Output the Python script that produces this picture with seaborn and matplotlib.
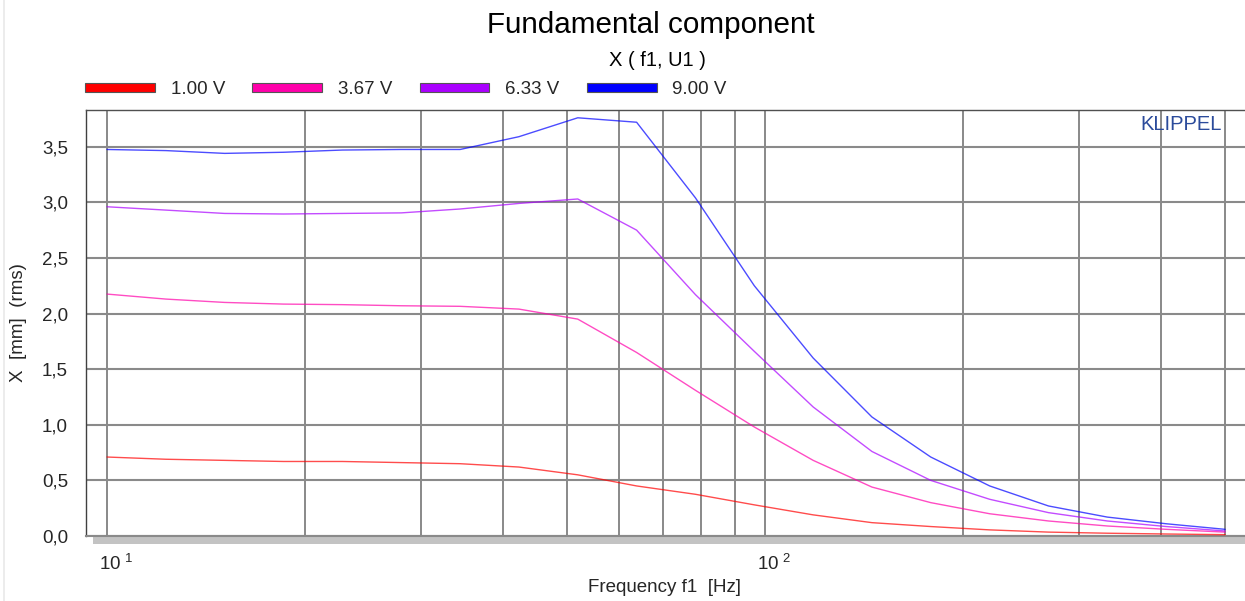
import numpy as np
import pandas as pd
import matplotlib
matplotlib.use("Agg")
import matplotlib.pyplot as plt
from matplotlib.patches import Patch, Rectangle
from matplotlib.transforms import ScaledTranslation
from matplotlib.ticker import FixedLocator, FuncFormatter, MultipleLocator, NullFormatter
import seaborn as sns

# Excitation frequencies of the stepped sine sweep [Hz]
freq_hz = [10.0, 12.29, 15.09, 18.54, 22.78, 27.99, 34.39, 42.25, 51.91, 63.78,
           78.36, 96.28, 118.3, 145.3, 178.5, 219.4, 269.5, 331.1, 406.9, 500.0]

# Fundamental displacement X (rms) [mm] for each drive voltage
x_1v00 = [0.71, 0.69, 0.68, 0.67, 0.67, 0.66, 0.65, 0.62, 0.55, 0.45,
          0.375, 0.28, 0.19, 0.12, 0.085, 0.055, 0.035, 0.025, 0.018, 0.012]
x_3v67 = [2.175, 2.13, 2.10, 2.085, 2.08, 2.07, 2.065, 2.04, 1.95, 1.65,
          1.31, 0.98, 0.68, 0.44, 0.30, 0.20, 0.135, 0.09, 0.06, 0.035]
x_6v33 = [2.96, 2.93, 2.90, 2.895, 2.90, 2.905, 2.94, 2.99, 3.03, 2.75,
          2.17, 1.66, 1.16, 0.76, 0.50, 0.33, 0.21, 0.135, 0.085, 0.045]
x_9v00 = [3.475, 3.465, 3.44, 3.45, 3.47, 3.475, 3.475, 3.59, 3.76, 3.72,
          3.04, 2.25, 1.60, 1.07, 0.71, 0.45, 0.27, 0.17, 0.11, 0.06]

levels = ["1.00 V", "3.67 V", "6.33 V", "9.00 V"]
level_colors = ["#ff0000", "#ff00aa", "#aa00ff", "#0000ff"]

x_major = [10, 100]
x_minor = [20, 30, 40, 50, 60, 70, 80, 90, 200, 300, 400, 500]

df = pd.concat(
    [pd.DataFrame({"freq": freq_hz, "disp": vals, "level": lev})
     for lev, vals in zip(levels, [x_1v00, x_3v67, x_6v33, x_9v00])],
    ignore_index=True,
)

sns.set_theme(style="white")
plt.rcParams["font.family"] = ["Liberation Sans", "DejaVu Sans"]
plt.rcParams["mathtext.default"] = "regular"

W, H = 1245, 601
fig = plt.figure(figsize=(W / 100, H / 100), dpi=100)
fig.patch.set_facecolor("white")
ax = fig.add_axes([86 / W, 65 / H, (W - 86) / W, 426 / H])

palette = dict(zip(levels, level_colors))
sns.lineplot(data=df, x="freq", y="disp", hue="level", palette=palette,
             ax=ax, legend=False, linewidth=1.0, alpha=0.7, zorder=3)

ax.set_xscale("log")
ax.set_xlim(9.29, 536)
ax.set_ylim(0, 3.83)

# x axis: decades labelled, intermediate frequencies as grid only
ax.xaxis.set_major_locator(FixedLocator(x_major))
ax.xaxis.set_minor_locator(FixedLocator(x_minor))
ax.xaxis.set_major_formatter(FuncFormatter(
    lambda v, p: r"$10^{\ %d}$" % int(round(np.log10(v)))))
ax.xaxis.set_minor_formatter(NullFormatter())
ax.tick_params(axis="x", which="major", direction="out", length=8.6, width=1.0,
               color="#404040", labelsize=13.5, pad=4)
ax.tick_params(axis="x", which="minor", length=0)

# y axis: comma decimal labels, inward minor ticks
ax.yaxis.set_major_locator(MultipleLocator(0.5))
ax.yaxis.set_minor_locator(MultipleLocator(0.1))
ax.yaxis.set_major_formatter(FuncFormatter(lambda v, p: f"{v:.1f}".replace(".", ",")))
ax.tick_params(axis="y", which="major", direction="out", length=7.9, width=1.5,
               color="#8a8a8a", labelsize=13.5, pad=5)
ax.tick_params(axis="y", which="minor", direction="in", length=7.2, width=1.0,
               color="#555555")

ax.grid(which="major", axis="y", color="#8a8a8a", linewidth=1.5)
ax.grid(which="both", axis="x", color="#6a6a6a", linewidth=1.1)
ax.set_axisbelow(True)

ax.spines["right"].set_visible(False)
ax.spines["left"].set_color("#404040")
ax.spines["left"].set_linewidth(1.0)
ax.spines["top"].set_color("#505050")
ax.spines["top"].set_linewidth(1.0)
ax.spines["bottom"].set_color("#8a8a8a")
ax.spines["bottom"].set_linewidth(1.5)

# decade labels sit slightly right of their tick
shift = ScaledTranslation(9 / 100, 0, fig.dpi_scale_trans)
for lbl in ax.xaxis.get_majorticklabels():
    lbl.set_transform(lbl.get_transform() + shift)

# shadow band under the frequency axis
ax.add_patch(Rectangle((7 / 1159, -7.5 / 426), 1.2, 7 / 426, transform=ax.transAxes,
                       facecolor="#c3c3c3", edgecolor="none", clip_on=False, zorder=1))

ax.set_xlabel("Frequency f1  [Hz]", fontsize=13.5)
ax.xaxis.label.set_va("center")
ax.xaxis.set_label_coords((665 - 86) / 1159, (536 - 588) / 426)
ax.set_ylabel("X  [mm]  (rms)", fontsize=13.5)
ax.yaxis.label.set_va("center")
ax.yaxis.set_label_coords((19 - 86) / 1159, 0.5)

ax.text((1222 - 86) / 1159, (536 - 125) / 426, "KLIPPEL", transform=ax.transAxes,
        ha="right", va="center", fontsize=14.5, color="#2b4b9b")

fig.text(651 / W, 1 - 25 / H, "Fundamental component", ha="center", va="center",
         fontsize=21.3, color="black")
fig.text(657 / W, 1 - 61 / H, "X ( f1, U1 )", ha="center", va="center",
         fontsize=14.5, color="black")

handles = [Patch(facecolor=c, edgecolor="#555555", linewidth=0.8, label=l)
           for l, c in zip(levels, level_colors)]
fig.legend(handles=handles, loc="center left", ncol=4,
           bbox_to_anchor=(85 / W, 1 - 90 / H), bbox_transform=fig.transFigure,
           frameon=False, fontsize=13.5, handlelength=3.73, handleheight=0.37,
           handletextpad=0.85, columnspacing=1.44, borderpad=0, borderaxespad=0)

# thin light border on the left edge of the canvas
fig.patches.append(Rectangle((3 / W, 0), 2 / W, 1, transform=fig.transFigure,
                             facecolor="#ececec", edgecolor="none"))

fig.savefig("out.png", dpi=100)
